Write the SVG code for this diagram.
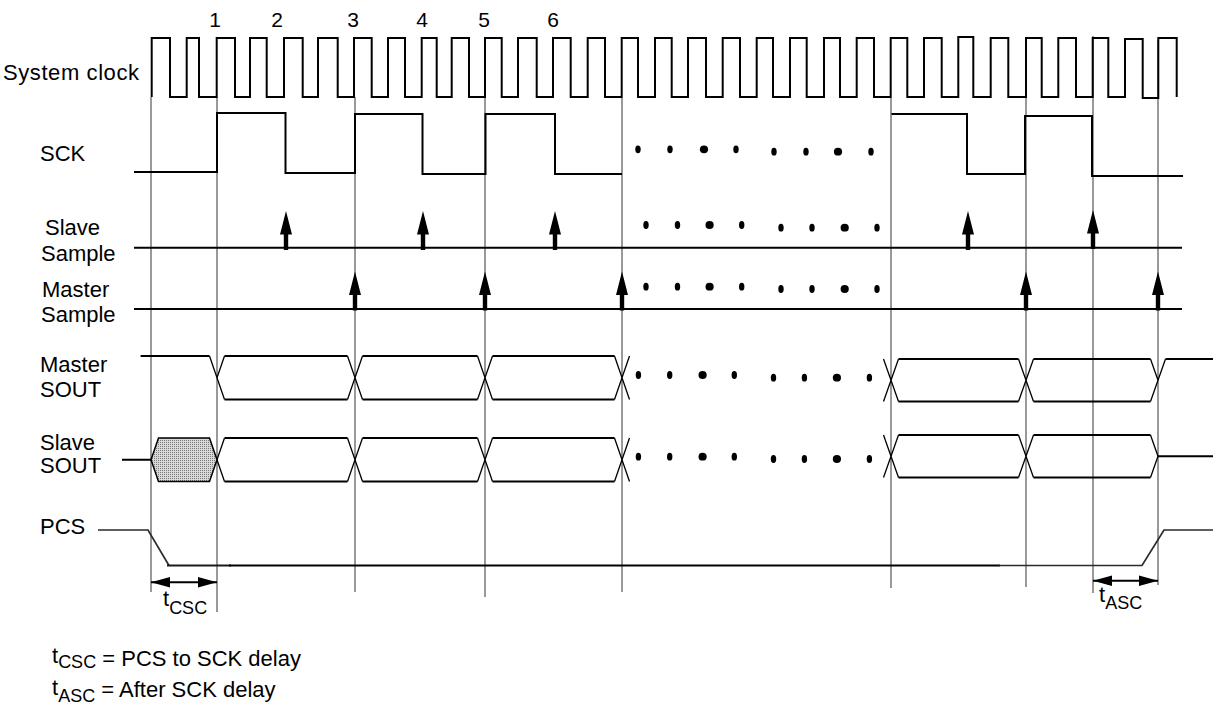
<svg xmlns="http://www.w3.org/2000/svg" xmlns:xlink="http://www.w3.org/1999/xlink" width="1214" height="705" viewBox="0 0 1214 705">
<style>
.lbl{font-family:"Liberation Sans",Arial,Helvetica,sans-serif;font-size:22px;fill:#000}
.num{font-family:"Liberation Sans",Arial,Helvetica,sans-serif;font-size:21px;fill:#000;text-anchor:middle}
.sub{font-size:18px}
.sig{fill:none;stroke:#000;stroke-width:2}
.dg{fill:none;stroke:#000;stroke-width:1.3}
.grid{fill:none;stroke:#808080;stroke-width:1.6}
.pcsg{fill:none;stroke:#2a2a2a;stroke-width:1.7}
.dot{fill:#000}
</style>
<defs>
<pattern id="stip" width="2" height="2" patternUnits="userSpaceOnUse">
<rect width="2" height="2" fill="#d9d9d9"/>
<rect width="1" height="1" fill="#7a7a7a"/>
</pattern>
<path id="arr" d="M-6,23.5 L0,0 L6,23.5 Z M-2.2,22 H2.2 V39 H-2.2 Z" fill="#000"/>
<marker id="dh" markerUnits="userSpaceOnUse" markerWidth="19" markerHeight="12" refX="19" refY="6" orient="auto-start-reverse">
<path d="M0,0.8 L19,6 L0,11.2 Z" fill="#000"/>
</marker>
<ellipse id="ds" rx="2.7" ry="3.9"/>
<ellipse id="db" rx="4.1" ry="3.9"/>
</defs>
<rect width="1214" height="705" fill="#fff"/>

<g id="connectors">
<path class="grid" d="M151,97 V592 M217,97 V612 M355,97 V592 M485,98 V597 M622,98 V592 M891,98 V588 M1026,98 V587 M1093,36 V593 M1158,40 V585"/>
</g>

<g id="numbers">
<text class="num" x="215" y="27">1</text>
<text class="num" x="277" y="27">2</text>
<text class="num" x="353" y="27">3</text>
<text class="num" x="422" y="27">4</text>
<text class="num" x="484" y="27">5</text>
<text class="num" x="553" y="27">6</text>
</g>

<g id="system-clock">
<text class="lbl" x="3" y="80" textLength="136">System clock</text>
<path class="sig" d="M151.7,97 V38 H170 V97 H186.7 V38 H199 V97 H216.7 V38 H235 V97 H250 V38 H266.7 V97 H284 V38 H302.7 V97 H318 V38 H337.7 V97 H354 V38 H371.7 V97 H388 V38 H405 V97 H421.7 V38 H436.7 V97 H451.7 V38 H469 V97 H485 V38 H501.7 V97 H518 V38 H536.7 V97 H553 V38 H570.7 V97 H587.7 V38 H605 V97 H621.7 V38 H638 V97 H655 V38 H671.7 V97 H688 V38 H706 V97 H722.7 V38 H740 V97 H756.7 V38 H773 V97 H790 V38 H806.7 V97 H824 V38 H840 V97 H856.7 V38 H874 V97 H890.7 V38 H907.3 V97 H924 V38 H941.7 V97 H958.3 V37 H973.3 V97 H990.7 V38 H1008.3 V97 H1026 V38 H1041.7 V97 H1058.3 V38 H1076 V97 H1092.7 V38 H1108.3 V97 H1125 V39 H1142.7 V98 H1158.3 V38 H1176.7 V97"/>
</g>

<g id="sck">
<text class="lbl" x="40" y="161">SCK</text>
<path class="sig" d="M134,172 H217 V113 H285.5 V173 H355 V114 H422.5 V174 H485.5 V114 H555 V174 H622"/>
<path class="sig" d="M891.5,114 H967 V174 H1025 V116 H1092 V176 H1183"/>
<g class="dot">
<use href="#ds" x="638" y="149.3"/><use href="#ds" x="670" y="149.3"/><use href="#db" x="704" y="149.3"/><use href="#ds" x="736" y="149.3"/>
<use href="#ds" x="774" y="151.7"/><use href="#ds" x="806" y="151.7"/><use href="#db" x="838" y="151.7"/><use href="#ds" x="871" y="151.7"/>
</g>
</g>

<g id="slave-sample">
<text class="lbl" x="45" y="235">Slave</text>
<text class="lbl" x="41" y="261">Sample</text>
<path class="sig" d="M134,247.7 H1182"/>
<use href="#arr" x="286" y="211"/><use href="#arr" x="423" y="211"/><use href="#arr" x="555" y="211"/><use href="#arr" x="968" y="211"/><use href="#arr" x="1093" y="210"/>
<g class="dot">
<use href="#ds" x="646" y="225"/><use href="#ds" x="677.5" y="225"/><use href="#db" x="709.6" y="225"/><use href="#ds" x="741.7" y="225"/>
<use href="#ds" x="781" y="227.7"/><use href="#ds" x="812" y="227.7"/><use href="#db" x="844.7" y="227.7"/><use href="#ds" x="877" y="227.7"/>
</g>
</g>

<g id="master-sample">
<text class="lbl" x="42" y="297">Master</text>
<text class="lbl" x="41" y="322">Sample</text>
<path class="sig" d="M134,309 H1182"/>
<use href="#arr" x="355" y="271.5"/><use href="#arr" x="485" y="271.5"/><use href="#arr" x="622" y="271.5"/><use href="#arr" x="1026" y="271.5"/><use href="#arr" x="1158" y="271.5"/>
<g class="dot">
<use href="#ds" x="646" y="286.7"/><use href="#ds" x="677.5" y="286.7"/><use href="#db" x="709.6" y="286.7"/><use href="#ds" x="741.7" y="286.7"/>
<use href="#ds" x="781" y="289"/><use href="#ds" x="812" y="289"/><use href="#db" x="844.7" y="289"/><use href="#ds" x="877" y="289"/>
</g>
</g>

<g id="master-sout">
<text class="lbl" x="40" y="372">Master</text>
<text class="lbl" x="40" y="397">SOUT</text>
<path class="sig" d="M140.6,356 H209.5 M224.5,356 H347.5 M362.5,356 H477.5 M492.5,356 H614.5 M224.5,399.5 H347.5 M362.5,399.5 H477.5 M492.5,399.5 H614.5"/>
<path class="dg" d="M209.5,356 L224.5,399.5 M217,377.75 L224.5,356 M347.5,356 L362.5,399.5 M347.5,399.5 L362.5,356 M477.5,356 L492.5,399.5 M477.5,399.5 L492.5,356 M614.5,356 L629.5,399.5 M614.5,399.5 L629.5,356"/>
<path class="sig" d="M898.5,359 H1018.5 M1033.5,359 H1150.5 M898.5,401.5 H1018.5 M1033.5,401.5 H1150.5 M1165.5,359 H1213"/>
<path class="dg" d="M883.5,359 L898.5,401.5 M883.5,401.5 L898.5,359 M1018.5,359 L1033.5,401.5 M1018.5,401.5 L1033.5,359 M1150.5,359 L1158,380.25 M1150.5,401.5 L1165.5,359"/>
<g class="dot">
<use href="#ds" x="638.4" y="375"/><use href="#ds" x="669.7" y="375"/><use href="#db" x="702.6" y="375"/><use href="#ds" x="734.3" y="375"/>
<use href="#ds" x="773.5" y="377.7"/><use href="#ds" x="804.4" y="377.7"/><use href="#db" x="836.9" y="377.7"/><use href="#ds" x="869.4" y="377.7"/>
</g>
</g>

<g id="slave-sout">
<text class="lbl" x="40" y="450">Slave</text>
<text class="lbl" x="40" y="473">SOUT</text>
<path class="sig" d="M122,459.75 H151"/>
<path d="M151,459.75 L158.5,438 H209.5 L217,459.75 L209.5,481.5 H158.5 Z" fill="url(#stip)" stroke="#000" stroke-width="1.5" stroke-linejoin="miter"/>
<path class="sig" d="M224.5,438 H347.5 M362.5,438 H477.5 M492.5,438 H614.5 M224.5,481.5 H347.5 M362.5,481.5 H477.5 M492.5,481.5 H614.5"/>
<path class="dg" d="M217,459.75 L224.5,438 M217,459.75 L224.5,481.5 M347.5,438 L362.5,481.5 M347.5,481.5 L362.5,438 M477.5,438 L492.5,481.5 M477.5,481.5 L492.5,438 M614.5,438 L629.5,481.5 M614.5,481.5 L629.5,438"/>
<path class="sig" d="M898.5,435 H1018.5 M1033.5,435 H1150.5 M898.5,477.5 H1018.5 M1033.5,477.5 H1150.5 M1158,456.25 H1213"/>
<path class="dg" d="M883.5,435 L898.5,477.5 M883.5,477.5 L898.5,435 M1018.5,435 L1033.5,477.5 M1018.5,477.5 L1033.5,435 M1150.5,435 L1158,456.25 L1150.5,477.5"/>
<g class="dot">
<use href="#ds" x="638.4" y="456.7"/><use href="#ds" x="669.7" y="456.7"/><use href="#db" x="702.6" y="456.7"/><use href="#ds" x="734.3" y="456.7"/>
<use href="#ds" x="773.5" y="459"/><use href="#ds" x="804.4" y="459"/><use href="#db" x="836.9" y="459"/><use href="#ds" x="869.4" y="459"/>
</g>
</g>

<g id="pcs">
<text class="lbl" x="40" y="534">PCS</text>
<path class="pcsg" d="M98,530 H148 L169,565.5"/>
<line x1="167" y1="565.5" x2="231" y2="565.5" stroke="#1a1a1a" stroke-width="2"/>
<path class="sig" d="M229,565.5 H1000"/>
<path class="pcsg" d="M999,565.5 H1142 L1164,530 H1213"/>
</g>

<g id="timing">
<path class="sig" d="M151,582.3 H217" marker-start="url(#dh)" marker-end="url(#dh)"/>
<text class="lbl" x="163" y="606">t<tspan class="sub" dy="8">CSC</tspan></text>
<path class="sig" d="M1093,580.7 H1158" marker-start="url(#dh)" marker-end="url(#dh)"/>
<text class="lbl" x="1099" y="601.5">t<tspan class="sub" dy="7">ASC</tspan></text>
</g>

<g id="legend">
<text class="lbl" x="52" y="663">t<tspan class="sub" dy="5">CSC</tspan><tspan dy="-2"> = PCS to SCK delay</tspan></text>
<text class="lbl" x="52" y="695">t<tspan class="sub" dy="6.5">ASC</tspan><tspan dy="-4.5"> = After SCK delay</tspan></text>
</g>
</svg>
